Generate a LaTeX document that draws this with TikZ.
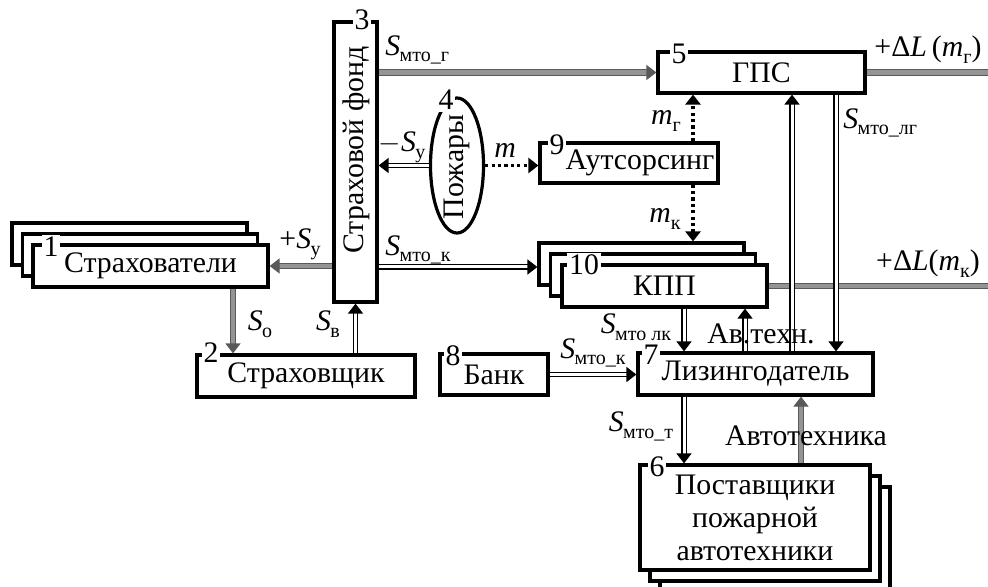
\documentclass[tikz,border=0pt]{standalone}
\usepackage{fontspec}
\setmainfont{Liberation Serif}
\usetikzlibrary{arrows.meta,shapes.geometric,calc}
\newcommand{\mainsz}{\fontsize{14.9}{16.5}\selectfont}
\newcommand{\subsz}{\fontsize{10}{10}\selectfont}
\newcommand{\Sm}[1]{\textit{S}\kern-0.3pt\raisebox{-0.5ex}{\subsz #1}}
\newcommand{\msub}[1]{\textit{m}\raisebox{-0.5ex}{\subsz #1}}
\tikzset{
  box/.style={draw, line width=1.6pt, fill=white, inner sep=0pt, align=center, font=\mainsz},
  num/.style={fill=white, inner sep=1pt, font=\mainsz},
  lbl/.style={inner sep=0pt, font=\mainsz},
  tip/.style={-{Triangle[length=5pt,width=7.5pt]}},
  conn/.style={tip, draw=black, line width=0.7pt, double=white, double distance=1.5pt},
  gconn/.style={tip, draw=black!65, line width=0.6pt, double=black!42, double distance=2.2pt},
  dotconn/.style={tip, draw=black, line width=1.6pt, dash pattern=on 1.6pt off 1.6pt}
}
\begin{document}
\begin{tikzpicture}[x=0.5pt,y=-0.5pt]
\useasboundingbox (0,0) rectangle (988,587);
% ---------- boxes ----------
\node[box, minimum width=117.5pt, minimum height=21pt] (s1c) at (129.5,244) {};
\node[box, minimum width=117.5pt, minimum height=21pt] (s1b) at (140,255) {};
\node[box, minimum width=117.5pt, minimum height=21pt] (s1) at (150.5,266) {Страхователи};
\node[num] (n1) at (51,247) {1};

\node[box, minimum width=109pt, minimum height=21pt] (str) at (306,376) {Страховщик};
\node[num] (n2) at (211,353) {2};

\node[box, minimum width=21.5pt, minimum height=140pt] (fond) at (355.5,162) {};
\node[lbl, rotate=90] (fondt) at (356,150) {Страховой фонд};
\node[num] (n3) at (362,20) {3};

\node[box, ellipse, minimum width=26.5pt, minimum height=67.5pt] (poz) at (457,165.5) {};
\node[lbl, rotate=90] (pozt) at (457,167) {Пожары};
\node[num] (n4) at (446,100) {4};

\node[box, minimum width=89pt, minimum height=20pt] (out) at (629,163) {\hspace*{11pt}\raisebox{-2pt}{Аутсорсинг}};
\node[num] (n9) at (557,145) {9};

\node[box, minimum width=103.5pt, minimum height=20.5pt] (gps) at (761.5,72.5) {ГПС};
\node[num] (n5) at (679,54) {5};

\node[box, minimum width=102.5pt, minimum height=21pt] (kppc) at (641.5,264) {};
\node[box, minimum width=102.5pt, minimum height=21pt] (kppb) at (653,275) {};
\node[box, minimum width=102.5pt, minimum height=21pt] (kpp) at (664.5,286) {КПП};
\node[num] (n10) at (584,265) {10};

\node[box, minimum width=117.5pt, minimum height=21pt] (liz) at (755.5,374) {Лизингодатель};
\node[num] (n7) at (651,355) {7};

\node[box, minimum width=54pt, minimum height=20.5pt] (bank) at (494,374.5) {Банк};
\node[num] (n8) at (453,356) {8};

\node[box, minimum width=115pt, minimum height=52.5pt] (posc) at (775,539.5) {};
\node[box, minimum width=115pt, minimum height=52.5pt] (posb) at (765,528.5) {};
\node[box, minimum width=115pt, minimum height=52.5pt, font=\fontsize{14.9}{16.5}\selectfont] (pos) at (755,517.5) {Поставщики\\пожарной\\автотехники};
\node[num] (n6) at (657,467) {6};

% ---------- helper coordinates ----------
\coordinate (xSo) at (233,0);
\coordinate (xA) at (684,0);
\coordinate (xM) at (693,0);
\coordinate (xAv) at (745,0);
\coordinate (xL) at (792,0);
\coordinate (xLG) at (836,0);
\coordinate (xAT) at (801,0);
\coordinate (yK) at (0,267);
\coordinate (eG) at (998,72.5);
\coordinate (eK) at (998,286);

% ---------- connectors ----------
\draw[gconn] (fond.east |- gps) -- (gps.west);
\draw[gconn] (gps.east) -- (eG);
\draw[gconn] (fond.west |- s1) -- (s1.east);
\draw[gconn] (s1.south -| xSo) -- (str.north -| xSo);
\draw[conn] (str.north -| fond) -- (fond.south);
\draw[conn] (poz.west) -- (poz.west -| fond.east);
\draw[dotconn] (poz.east) -- (poz.east -| out.west);
\draw[conn] (fond.east |- yK) -- (kppc.west |- yK);
\draw[dotconn] (out.north -| xM) -- (gps.south -| xM);
\draw[dotconn] (out.south -| xM) -- (kppc.north -| xM);
\draw[gconn] (kpp.east) -- (eK);
\draw[conn] (kpp.south -| xA) -- (liz.north -| xA);
\draw[conn] (liz.north -| xAv) -- (kpp.south -| xAv);
\draw[conn] (liz.north -| xL) -- (gps.south -| xL);
\draw[conn] (gps.south -| xLG) -- (liz.north -| xLG);
\draw[conn] (bank.east) -- (bank.east -| liz.west);
\draw[conn] (liz.south -| xA) -- (pos.north -| xA);
\draw[gconn] (pos.north -| xAT) -- (liz.south -| xAT);

% ---------- labels ----------
\node[lbl] (lSy) at (300,244) {+\Sm{у}};
\node[lbl] (lSo) at (260,324) {\Sm{о}};
\node[lbl] (lSv) at (328,324) {\Sm{в}};
\node[lbl, anchor=west] (lSg) at (385,50) {\Sm{мто\_г}};
\node[lbl] (lmSy) at (402,147) {\(-\)\Sm{у}};
\node[lbl] (lm) at (505,150) {\textit{m}};
\node[lbl, anchor=west] (lSk) at (385,250) {\Sm{мто\_к}};
\node[lbl] (lLg) at (928,50) {+Δ\textit{L}\,(\msub{г})};
\node[lbl] (lmg) at (666,121) {\msub{г}};
\node[lbl, anchor=west] (lSlg) at (843,123) {\Sm{мто\_лг}};
\node[lbl] (lmk) at (665,219) {\msub{к}};
\node[lbl] (lLk) at (928,264) {+Δ\textit{L}(\msub{к})};
\node[lbl] (lSlk) at (636,327) {\Sm{мто лк}};
\node[lbl] (lAv) at (761,334) {Ав.техн.};
\node[lbl] (lSbk) at (593,353) {\Sm{мто\_к}};
\node[lbl] (lSt) at (641,426) {\Sm{мто\_т}};
\node[lbl] (lAT) at (806,436) {Автотехника};
\end{tikzpicture}
\end{document}
